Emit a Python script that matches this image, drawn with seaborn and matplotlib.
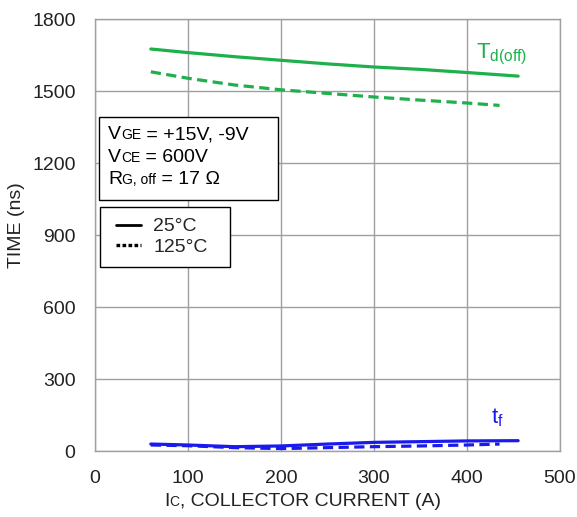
import matplotlib
matplotlib.use("Agg")
import matplotlib.pyplot as plt
import seaborn as sns
import pandas as pd
from matplotlib.lines import Line2D
from matplotlib.patches import Rectangle
from matplotlib.legend_handler import HandlerLine2D
from matplotlib.offsetbox import TextArea, HPacker, VPacker, AnchoredOffsetbox

# ---- data ----
ic_td_25 = [60, 100, 150, 200, 250, 300, 350, 400, 455]
td_25 = [1675, 1660, 1643, 1628, 1613, 1600, 1590, 1577, 1562]
ic_td_125 = [60, 100, 150, 200, 250, 300, 350, 400, 435]
td_125 = [1580, 1553, 1525, 1505, 1490, 1475, 1462, 1450, 1440]
ic_tf_25 = [60, 100, 150, 200, 250, 300, 350, 400, 455]
tf_25 = [29, 25, 18, 21, 29, 36, 39, 42, 43]
ic_tf_125 = [60, 100, 150, 200, 250, 300, 350, 400, 435]
tf_125 = [25, 22, 14, 10, 14, 18, 21, 25, 29]

x_ticks = [0, 100, 200, 300, 400, 500]
y_ticks = [0, 300, 600, 900, 1200, 1500, 1800]
legend_labels = ["25°C", "125°C"]

GREEN = "#1DB04B"
BLUE = "#1A1AEE"
W, H = 577, 517

rows = []
for xs, ys, p, t in [(ic_td_25, td_25, "td", "25°C"), (ic_td_125, td_125, "td", "125°C"),
                     (ic_tf_25, tf_25, "tf", "25°C"), (ic_tf_125, tf_125, "tf", "125°C")]:
    for x, y in zip(xs, ys):
        rows.append({"Ic": x, "time": y, "param": p, "temp": t})
df = pd.DataFrame(rows)

sns.set_style("white")
plt.rcParams['font.family'] = ['Liberation Sans', 'DejaVu Sans']
plt.rcParams['mathtext.fontset'] = 'custom'
plt.rcParams['mathtext.rm'] = 'Liberation Sans'
plt.rcParams['mathtext.it'] = 'Liberation Sans'

fig = plt.figure(figsize=(W / 100, H / 100), dpi=100)
ax = fig.add_axes([95 / W, 1 - 451 / H, 465 / W, 432 / H])

sns.lineplot(data=df, x="Ic", y="time", hue="param", style="temp",
             palette={"td": GREEN, "tf": BLUE},
             dashes={"25°C": "", "125°C": (3.2, 1.7)},
             units="param", estimator=None, sort=False,
             linewidth=2.3, legend=False, ax=ax)

ax.set_xlim(0, 500)
ax.set_ylim(0, 1800)
ax.set_xticks(x_ticks)
ax.set_yticks(y_ticks)
ax.tick_params(labelsize=14, colors="#222222", length=3, color="#999999", width=1)
ax.tick_params(axis="y", pad=11)
ax.tick_params(axis="x", length=0, pad=14)
ax.grid(True, color="#A0A0A0", linewidth=1)
for s in ax.spines.values():
    s.set_color("#A0A0A0")
    s.set_linewidth(1)

ax.set_xlabel("")
ax.set_ylabel("TIME (ns)", fontsize=14, color="#222222")
ax.yaxis.set_label_coords((25 - 95) / 465, (451 - 225) / 432)


def row(parts, color="black"):
    return HPacker(children=[TextArea(t, textprops=dict(fontsize=s, color=color)) for t, s in parts],
                   align="baseline", pad=0, sep=0)


# x axis label with small-caps style subscript
xl = AnchoredOffsetbox(loc="center", child=row([("I", 14), ("C", 10), (", COLLECTOR CURRENT (A)", 14)], "#222222"),
                       pad=0, borderpad=0, frameon=False,
                       bbox_to_anchor=(302.5 / W, 1 - 502 / H), bbox_transform=fig.transFigure)
ax.add_artist(xl)

# curve labels
ax.text(410, 1634, r"$\mathregular{T_{d(off)}}$", fontsize=16, color=GREEN)
ax.text(426, 115, r"$\mathregular{t_f}$", fontsize=16, color=BLUE)

# conditions box
fig.patches.append(Rectangle((99 / W, 1 - 200 / H), 179 / W, 83 / H, transform=fig.transFigure,
                             facecolor="white", edgecolor="black", linewidth=1, zorder=5))
box = VPacker(children=[
    row([("V", 14), ("GE", 10), (" = +15V, -9V", 14)]),
    row([("V", 14), ("CE", 10), (" = 600V", 14)]),
    row([("R", 14), ("G, off", 10), (" = 17 Ω", 14)]),
], align="left", pad=0, sep=4)
ab = AnchoredOffsetbox(loc="upper left", child=box, pad=0, borderpad=0, frameon=False,
                       bbox_to_anchor=(108 / W, 1 - 126 / H), bbox_transform=fig.transFigure)
ab.set_zorder(6)
fig.artists.append(ab)
ab.set_figure(fig)

handles = [Line2D([], [], color="black", lw=2, ls="-"),
           Line2D([], [], color="black", lw=2.4, ls=(0, (1.1, 0.7)))]
leg = ax.legend(handles, legend_labels, loc="upper left", mode="expand",
                bbox_to_anchor=(100 / W, 1 - 263 / H, 130 / W, 56 / H), bbox_transform=fig.transFigure,
                fontsize=14, frameon=True, fancybox=False, edgecolor="black", framealpha=1,
                handlelength=1.56, handletextpad=0.62, borderpad=0.55, labelspacing=0.15,
                borderaxespad=0, handler_map={Line2D: HandlerLine2D(xpad=0.27)})
leg.get_frame().set_linewidth(1)
leg.set_zorder(6)

fig.savefig("out.png", dpi=100)
